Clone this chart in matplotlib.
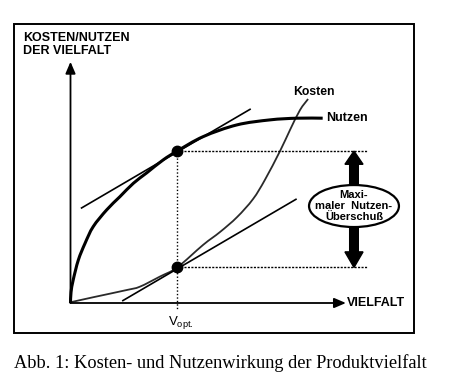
#!/usr/bin/env python3
"""Kosten- und Nutzenwirkung der Produktvielfalt."""
import matplotlib
matplotlib.use("Agg")
import matplotlib.pyplot as plt
from matplotlib.path import Path
from matplotlib.patches import Ellipse, Rectangle, FancyArrow, PathPatch

# curves (x = variety, y = cost/benefit, arbitrary units)
nutzen_x = [0.0, 0.02, 0.10, 0.29, 0.54, 0.84, 1.34, 1.83, 2.33, 2.82, 3.43,
            3.95, 4.91, 6.16, 7.39, 8.38, 9.34]
nutzen_y = [0.0, 0.45, 0.96, 1.79, 2.49, 3.18, 3.88, 4.43, 4.99, 5.42, 5.96,
            6.33, 6.93, 7.42, 7.63, 7.70, 7.70]

kosten_x = [0.0, 0.84, 2.08, 2.57, 3.31, 3.95, 4.91, 5.54, 6.17, 6.76, 7.20,
            7.76, 8.13, 8.50, 8.80]
kosten_y = [0.03, 0.24, 0.54, 0.68, 1.10, 1.48, 2.42, 2.96, 3.58, 4.33, 5.13,
            6.33, 7.21, 8.04, 8.50]

# tangents at the optimum
tan_nutzen_x = [0.41, 6.65]
tan_nutzen_y = [3.96, 8.07]
tan_kosten_x = [1.94, 8.35]
tan_kosten_y = [0.10, 4.32]

v_opt = 3.95
nutzen_opt = 6.33
kosten_opt = 1.48


def smooth(xs, ys):
    """Bezier path through the given points (Catmull-Rom handles)."""
    pts = list(zip(xs, ys))
    verts = [pts[0]]
    codes = [Path.MOVETO]
    for i in range(len(pts) - 1):
        p0 = pts[max(i - 1, 0)]
        p1 = pts[i]
        p2 = pts[i + 1]
        p3 = pts[min(i + 2, len(pts) - 1)]
        c1 = (p1[0] + (p2[0] - p0[0]) / 6, p1[1] + (p2[1] - p0[1]) / 6)
        c2 = (p2[0] - (p3[0] - p1[0]) / 6, p2[1] - (p3[1] - p1[1]) / 6)
        verts += [c1, c2, p2]
        codes += [Path.CURVE4] * 3
    return Path(verts, codes)


fig = plt.figure(figsize=(4.5, 3.87), dpi=100)
ax = fig.add_axes([0, 0, 1, 1])
ax.set_xlim(-2.611, 14.056)
ax.set_ylim(-3.5, 12.625)
ax.axis("off")

sans = "Liberation Sans"

# frame
fig.patches.append(Rectangle((14 / 450, 1 - 333 / 387), 400 / 450, 309 / 387,
                             transform=fig.transFigure, fill=False,
                             edgecolor="black", linewidth=1.4))

# axes with arrows
arrow = dict(arrowstyle="-|>,head_length=0.7,head_width=0.3", lw=1.3,
             color="black", shrinkA=0, shrinkB=0)
ax.annotate("", xy=(0, 10.05), xytext=(0, 0), arrowprops=arrow)
ax.annotate("", xy=(10.2, 0), xytext=(0, 0), arrowprops=arrow)

# dotted guides
ax.plot([v_opt, v_opt], [nutzen_opt, -0.3], color="black", ls=(0, (1, 1.5)), lw=1)
ax.plot([v_opt, 10.98], [nutzen_opt, nutzen_opt], color="black",
        ls=(0, (1.5, 1)), lw=1)
ax.plot([v_opt, 10.98], [kosten_opt, kosten_opt], color="black",
        ls=(0, (1.5, 1)), lw=1)

# curves and tangents
ax.plot(tan_nutzen_x, tan_nutzen_y, color="black", lw=1.2)
ax.plot(tan_kosten_x, tan_kosten_y, color="black", lw=1.2)
ax.add_patch(PathPatch(smooth(kosten_x, kosten_y), fill=False,
                       edgecolor="#2a2a2a", lw=1.3))
ax.add_patch(PathPatch(smooth(nutzen_x, nutzen_y), fill=False,
                       edgecolor="black", lw=2.2, capstyle="butt"))
ax.plot([v_opt, v_opt], [nutzen_opt, kosten_opt], "o", color="black",
        markersize=7.5, ls="none", zorder=3)

# surplus arrows and ellipse
ax.add_patch(FancyArrow(10.5, 4.92, 0, nutzen_opt - 4.92, width=0.32,
                        head_width=0.67, head_length=0.55,
                        length_includes_head=True, color="black"))
ax.add_patch(FancyArrow(10.5, 3.17, 0, kosten_opt - 3.17, width=0.32,
                        head_width=0.67, head_length=0.65,
                        length_includes_head=True, color="black"))
ax.add_patch(Ellipse((10.5, 4.04), 3.33, 1.75, facecolor="white",
                     edgecolor="black", lw=1.6, zorder=3))
ax.text(10.5, 4.04, "Maxi-\nmaler  Nutzen-\nÜberschuß", ha="center",
        va="center", fontsize=8, fontweight="bold", family=sans,
        linespacing=1.12, zorder=4)

# labels
ax.text(-1.76, 11.3, "KOSTEN/NUTZEN\nDER VIELFALT", ha="left", va="top",
        fontsize=9, fontweight="bold", family=sans, linespacing=1.15)
ax.text(10.25, 0, "VIELFALT", ha="left", va="center", fontsize=9,
        fontweight="bold", family=sans)
ax.text(9.48, 7.72, "Nutzen", ha="left", va="center", fontsize=9,
        fontweight="bold", family=sans)
ax.text(8.24, 8.8, "Kosten", ha="left", va="center", fontsize=8.8,
        fontweight="bold", family=sans)
ax.text(4.1, -0.8, r"V$_{\mathregular{opt.}}$", ha="center", va="center",
        fontsize=9.5, family=sans)

# caption
fig.text(14 / 450, 1 - 363 / 387,
         "Abb. 1: Kosten- und Nutzenwirkung der Produktvielfalt",
         ha="left", va="center", fontsize=13.2, family="Liberation Serif")

fig.savefig("out.png", dpi=100)
